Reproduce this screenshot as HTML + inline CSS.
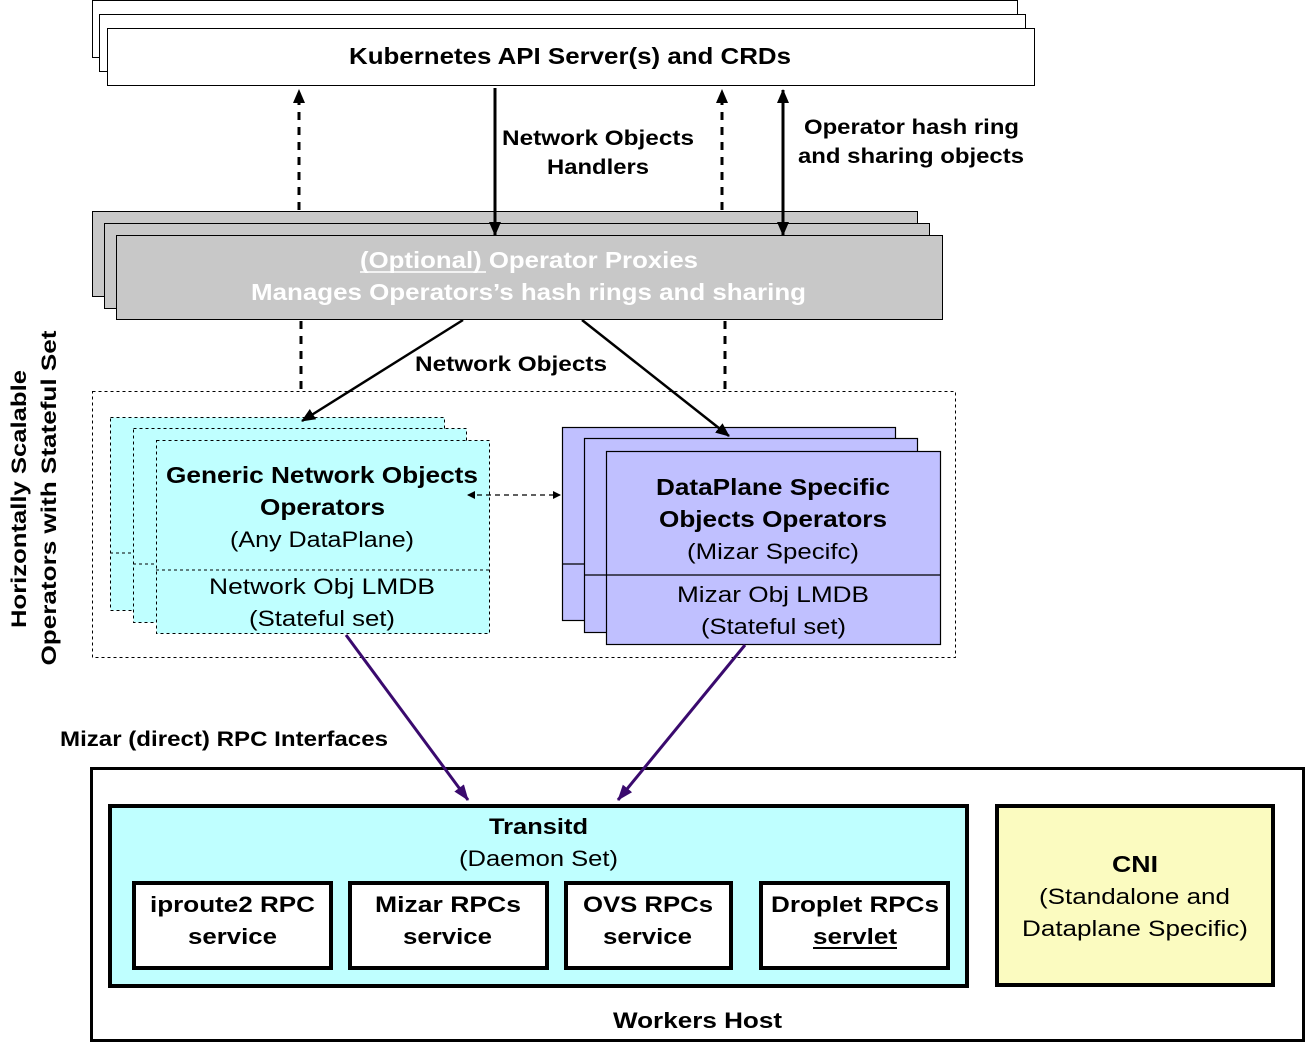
<!DOCTYPE html>
<html><head><meta charset="utf-8"><style>
html,body{margin:0;padding:0;background:#fff;}
svg{display:block;font-family:"Liberation Sans",Arial,sans-serif;}
.b{font-weight:bold;}
</style></head><body>
<svg width="1306" height="1044" viewBox="0 0 1306 1044" xmlns="http://www.w3.org/2000/svg">
<defs>
<marker id="ahs" markerWidth="14" markerHeight="12" refX="13" refY="6" orient="auto-start-reverse" markerUnits="userSpaceOnUse"><path d="M0,0 L14,6 L0,12 z" fill="#000"/></marker>
<marker id="ahp" markerWidth="16" markerHeight="12" refX="15" refY="6" orient="auto" markerUnits="userSpaceOnUse"><path d="M0,0 L16,6 L0,12 z" fill="#3a0a6e"/></marker>
<marker id="ahm" markerWidth="8" markerHeight="8" refX="7" refY="4" orient="auto-start-reverse" markerUnits="userSpaceOnUse"><path d="M0,0 L8,4 L0,8 z" fill="#000"/></marker>
</defs>

<!-- K8s stack -->
<rect x="92.5" y="0.5" width="925" height="57" fill="#fff" stroke="#000"/>
<rect x="99.5" y="14.5" width="926" height="57" fill="#fff" stroke="#000"/>
<rect x="107.5" y="28.5" width="927" height="57" fill="#fff" stroke="#000"/>
<text x="349" y="64" textLength="442" lengthAdjust="spacingAndGlyphs" class="b" font-size="23">Kubernetes API Server(s) and CRDs</text>

<text x="502" y="145" textLength="192" lengthAdjust="spacingAndGlyphs" class="b" font-size="21">Network Objects</text>
<text x="547" y="174" textLength="102" lengthAdjust="spacingAndGlyphs" class="b" font-size="21">Handlers</text>
<text x="804" y="134" textLength="215" lengthAdjust="spacingAndGlyphs" class="b" font-size="21">Operator hash ring</text>
<text x="798" y="163" textLength="226" lengthAdjust="spacingAndGlyphs" class="b" font-size="21">and sharing objects</text>

<!-- proxy stack -->
<rect x="92.5" y="211.5" width="825" height="85" fill="#c8c8c8" stroke="#000"/>
<rect x="104.5" y="223.5" width="825" height="85" fill="#c8c8c8" stroke="#000"/>
<rect x="116.5" y="235.5" width="826" height="84" fill="#c8c8c8" stroke="#000"/>
<text x="360" y="268" textLength="338" lengthAdjust="spacingAndGlyphs" class="b" font-size="23" fill="#fff">(Optional) Operator Proxies</text>
<line x1="360" y1="272" x2="486" y2="272" stroke="#fff" stroke-width="1.5"/>
<text x="251" y="300" textLength="555" lengthAdjust="spacingAndGlyphs" class="b" font-size="23" fill="#fff">Manages Operators’s hash rings and sharing</text>

<!-- top arrows (drawn after boxes) -->
<line x1="299" y1="210" x2="299" y2="90" stroke="#000" stroke-width="3" stroke-dasharray="8,7" marker-end="url(#ahs)"/>
<line x1="722" y1="210" x2="722" y2="90" stroke="#000" stroke-width="3" stroke-dasharray="8,7" marker-end="url(#ahs)"/>
<line x1="495" y1="88" x2="495" y2="235" stroke="#000" stroke-width="3" marker-end="url(#ahs)"/>
<line x1="783" y1="90" x2="783" y2="235" stroke="#000" stroke-width="3" marker-end="url(#ahs)" marker-start="url(#ahs)"/>

<!-- below proxy -->
<line x1="301" y1="321" x2="301" y2="390" stroke="#000" stroke-width="3" stroke-dasharray="8,7"/>
<line x1="725" y1="321" x2="725" y2="390" stroke="#000" stroke-width="3" stroke-dasharray="8,7"/>
<text x="415" y="371" textLength="192" lengthAdjust="spacingAndGlyphs" class="b" font-size="21">Network Objects</text>

<rect x="92.5" y="391.5" width="863" height="266" fill="none" stroke="#000" stroke-dasharray="3,3"/>

<!-- vertical labels -->
<text transform="translate(26,499) rotate(-90)" text-anchor="middle" textLength="258" lengthAdjust="spacingAndGlyphs" class="b" font-size="21">Horizontally Scalable</text>
<text transform="translate(56,498) rotate(-90)" text-anchor="middle" textLength="335" lengthAdjust="spacingAndGlyphs" class="b" font-size="21">Operators with Stateful Set</text>

<!-- cyan stack -->
<g stroke="#000" stroke-dasharray="3,3" fill="#bfffff">
<rect x="110.5" y="417.5" width="334" height="193"/>
<line x1="110" y1="553" x2="133" y2="553"/>
<rect x="133.5" y="428.5" width="333" height="194"/>
<line x1="133" y1="564" x2="156" y2="564"/>
<rect x="156.5" y="440.5" width="333" height="193"/>
<line x1="156" y1="570" x2="489" y2="570"/>
</g>
<text x="166" y="483" textLength="312" lengthAdjust="spacingAndGlyphs" class="b" font-size="23">Generic Network Objects</text>
<text x="260" y="515" textLength="125" lengthAdjust="spacingAndGlyphs" class="b" font-size="23">Operators</text>
<text x="230" y="547" textLength="184" lengthAdjust="spacingAndGlyphs" font-size="22">(Any DataPlane)</text>
<text x="209" y="594" textLength="226" lengthAdjust="spacingAndGlyphs" font-size="22">Network Obj LMDB</text>
<text x="249" y="626" textLength="146" lengthAdjust="spacingAndGlyphs" font-size="22">(Stateful set)</text>

<!-- purple stack -->
<g stroke="#000" fill="#c0c0ff" stroke-width="1.2">
<rect x="562.5" y="427.5" width="333" height="193"/>
<line x1="562" y1="564" x2="584" y2="564"/>
<rect x="584.5" y="438.5" width="333" height="194"/>
<line x1="584" y1="575" x2="606" y2="575"/>
<rect x="606.5" y="451.5" width="334" height="193"/>
<line x1="606" y1="575" x2="940" y2="575"/>
</g>
<text x="656" y="495" textLength="234" lengthAdjust="spacingAndGlyphs" class="b" font-size="23">DataPlane Specific</text>
<text x="659" y="527" textLength="228" lengthAdjust="spacingAndGlyphs" class="b" font-size="23">Objects Operators</text>
<text x="687" y="559" textLength="172" lengthAdjust="spacingAndGlyphs" font-size="22">(Mizar Specifc)</text>
<text x="677" y="602" textLength="192" lengthAdjust="spacingAndGlyphs" font-size="22">Mizar Obj LMDB</text>
<text x="701" y="634" textLength="145" lengthAdjust="spacingAndGlyphs" font-size="22">(Stateful set)</text>

<line x1="463" y1="320" x2="302" y2="421" stroke="#000" stroke-width="2.5" marker-end="url(#ahs)"/>
<line x1="582" y1="320" x2="729" y2="436" stroke="#000" stroke-width="2.5" marker-end="url(#ahs)"/>
<line x1="468" y1="495" x2="560" y2="495" stroke="#000" stroke-width="1.2" stroke-dasharray="5,4" marker-start="url(#ahm)" marker-end="url(#ahm)"/>

<text x="60" y="746" textLength="328" lengthAdjust="spacingAndGlyphs" class="b" font-size="21">Mizar (direct) RPC Interfaces</text>

<!-- workers host -->
<rect x="91.5" y="768.5" width="1212" height="272" fill="#fff" stroke="#000" stroke-width="3"/>
<rect x="110" y="806" width="857" height="180" fill="#bfffff" stroke="#000" stroke-width="4"/>
<text x="489" y="834" textLength="99" lengthAdjust="spacingAndGlyphs" class="b" font-size="22">Transitd</text>
<text x="459" y="866" textLength="159" lengthAdjust="spacingAndGlyphs" font-size="22">(Daemon Set)</text>
<g fill="#fff" stroke="#000" stroke-width="4">
<rect x="134" y="883" width="197" height="85"/>
<rect x="350" y="883" width="197" height="85"/>
<rect x="566" y="883" width="165" height="85"/>
<rect x="761" y="883" width="187" height="85"/>
</g>
<g class="b" font-size="22">
<text x="150" y="912" textLength="165" lengthAdjust="spacingAndGlyphs">iproute2 RPC</text><text x="188" y="944" textLength="89" lengthAdjust="spacingAndGlyphs">service</text>
<text x="375" y="912" textLength="146" lengthAdjust="spacingAndGlyphs">Mizar RPCs</text><text x="403" y="944" textLength="89" lengthAdjust="spacingAndGlyphs">service</text>
<text x="583" y="912" textLength="130" lengthAdjust="spacingAndGlyphs">OVS RPCs</text><text x="603" y="944" textLength="89" lengthAdjust="spacingAndGlyphs">service</text>
<text x="771" y="912" textLength="168" lengthAdjust="spacingAndGlyphs">Droplet RPCs</text><text x="813" y="944" textLength="84" lengthAdjust="spacingAndGlyphs">servlet</text>
</g>
<line x1="813" y1="948" x2="897" y2="948" stroke="#000" stroke-width="2"/>

<rect x="997" y="806" width="276" height="179" fill="#fbfbc0" stroke="#000" stroke-width="4"/>
<text x="1112" y="872" textLength="46" lengthAdjust="spacingAndGlyphs" class="b" font-size="23">CNI</text>
<text x="1039" y="904" textLength="191" lengthAdjust="spacingAndGlyphs" font-size="22">(Standalone and</text>
<text x="1022" y="936" textLength="226" lengthAdjust="spacingAndGlyphs" font-size="22">Dataplane Specific)</text>

<text x="613" y="1028" textLength="169" lengthAdjust="spacingAndGlyphs" class="b" font-size="22">Workers Host</text>

<!-- purple RPC arrows (on top) -->
<line x1="346" y1="635" x2="468" y2="800" stroke="#3a0a6e" stroke-width="3" marker-end="url(#ahp)"/>
<line x1="745" y1="645" x2="618" y2="800" stroke="#3a0a6e" stroke-width="3" marker-end="url(#ahp)"/>
</svg>
</body></html>
